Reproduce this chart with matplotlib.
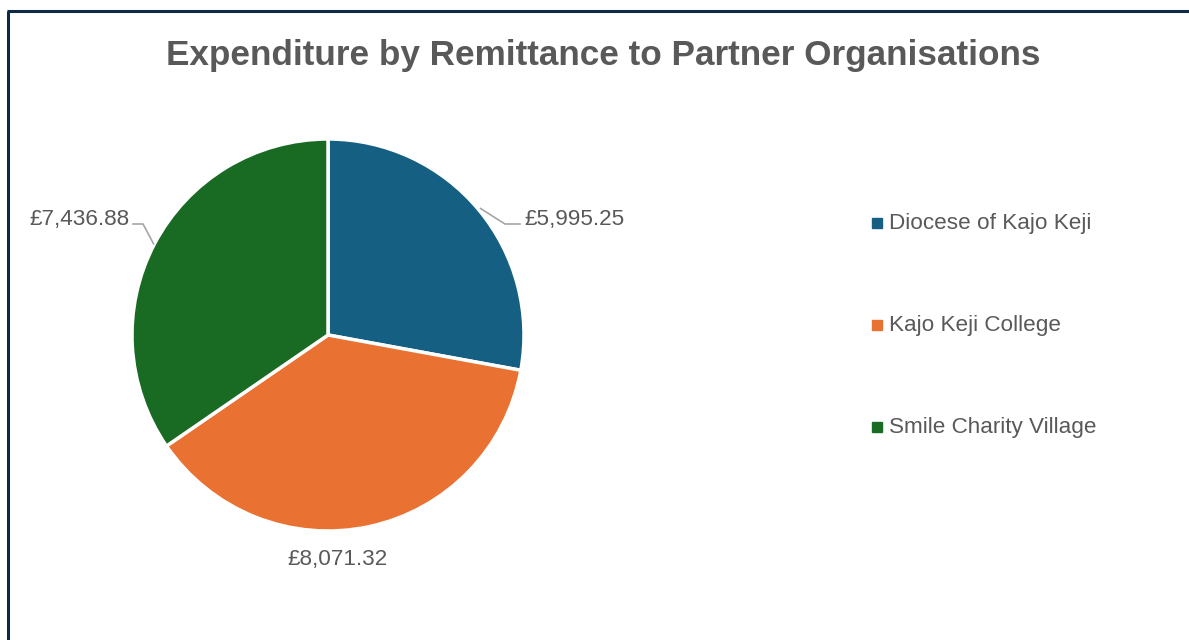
import matplotlib
matplotlib.use("Agg")
import matplotlib.pyplot as plt
import numpy as np

title = "Expenditure by Remittance to Partner Organisations"
categories = ["Diocese of Kajo Keji", "Kajo Keji College", "Smile Charity Village"]
values = [5995.25, 8071.32, 7436.88]
colors = ["#156082", "#E97132", "#196B24"]

W, H = 1189, 640
fig = plt.figure(figsize=(W / 100, H / 100), dpi=100)
fig.patch.set_facecolor("white")
ax = fig.add_axes([0, 0, 1, 1])

font = "Liberation Sans"
txt = "#595959"

cx, cy, r = 328, H - 335, 196
wedges, _ = ax.pie(values, colors=colors, startangle=90, counterclock=False,
                   center=(cx, cy), radius=r, frame=True,
                   wedgeprops=dict(edgecolor="white", linewidth=2.5))
ax.set_xlim(0, W)
ax.set_ylim(0, H)
ax.set_aspect("equal")
ax.axis("off")

# border (left and top visible)
ax.plot([8, 8], [0, H - 11], color="#0f2a47", lw=2.2, solid_capstyle="butt")
ax.plot([7, W + 2], [H - 11, H - 11], color="#0f2a47", lw=2.2, solid_capstyle="butt")

ax.text(603, H - 56, title, ha="center", va="center", fontsize=25.3,
        fontweight="bold", color=txt, family=font)

labels = ["£{:,.2f}".format(v) for v in values]

def edge_pt(w):
    th = np.deg2rad((w.theta1 + w.theta2) / 2)
    return cx + r * np.cos(th), cy + r * np.sin(th)

lc = "#a6a6a6"
fs = 16.2
# blue label
x0, y0 = edge_pt(wedges[0])
ax.plot([x0 + 2, 505, 520], [y0 + 1, H - 224, H - 224], color=lc, lw=1.2)
ax.text(524, H - 219, labels[0], ha="left", va="center", fontsize=fs, color=txt, family=font)
# orange label
ax.text(338, H - 559, labels[1], ha="center", va="center", fontsize=fs, color=txt, family=font)
# green label
x2, y2 = edge_pt(wedges[2])
ax.plot([x2 - 1, 143, 133], [y2, H - 224, H - 224], color=lc, lw=1.2)
ax.text(129, H - 219, labels[2], ha="right", va="center", fontsize=fs, color=txt, family=font)

# legend
for i, lab in enumerate(categories):
    y = H - (223 + 102 * i)
    ax.plot([877], [y], marker="s", ms=6.5, color=colors[i], mec=colors[i], ls="none")
    ax.text(889, y, lab, ha="left", va="center", fontsize=fs, color=txt, family=font)

fig.savefig("out.png", dpi=100, facecolor="white")
